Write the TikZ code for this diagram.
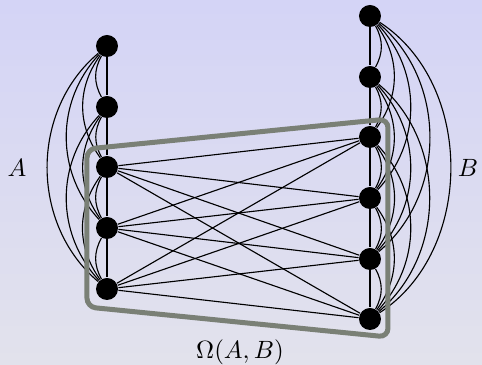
\documentclass[tikz,border=0pt]{standalone}
\definecolor{framegray}{RGB}{122,128,118}
\definecolor{bgtop}{RGB}{212,212,246}
\definecolor{bgbot}{RGB}{226,226,236}
\begin{document}
\begin{tikzpicture}[x=0.4pt,y=-0.4pt,
  vtx/.style={circle,fill=black,draw=none,inner sep=0pt,minimum size=8.8pt},
  edge/.style={line width=0.45pt,black},
  frame/.style={draw=framegray,line width=2pt,rounded corners=3.5pt},
  lab/.style={inner sep=1pt}]
\shade[top color=bgtop,bottom color=bgbot] (0,0) rectangle (482,365);
\useasboundingbox (0,0) rectangle (482,365);
\foreach \i/\y in {1/46,2/107,3/167,4/228,5/289} \node[vtx] (a\i) at (107,\y) {};
\foreach \i/\y in {1/16,2/77,3/137,4/198,5/259,6/319} \node[vtx] (b\i) at (370,\y) {};
% straight column lines
\draw[edge] (a1) -- (a2) -- (a3) -- (a4) -- (a5);
\draw[edge] (b1) -- (b2) -- (b3) -- (b4) -- (b5) -- (b6);
% arcs inside A
\foreach \i in {1,...,4}{
  \pgfmathtruncatemacro\s{\i+1}
  \foreach \j in {\s,...,5}{
    \pgfmathtruncatemacro\th{22+7*(\j-\i)}
    \draw[edge] (a\i) to[bend right=\th] (a\j);
  }
}
% arcs inside B
\foreach \i in {1,...,5}{
  \pgfmathtruncatemacro\s{\i+1}
  \foreach \j in {\s,...,6}{
    \pgfmathtruncatemacro\th{22+7*(\j-\i)}
    \draw[edge] (b\i) to[bend left=\th] (b\j);
  }
}
% bipartite edges
\foreach \i in {3,4,5}{
  \foreach \j in {3,...,6}{
    \draw[edge] (a\i) -- (b\j);
  }
}
% Omega frame
\draw[frame] (87,149) -- (388,119) -- (388,337) -- (87,307) -- cycle;
\node[lab] (labA) at (17,168) {$A$};
\node[lab] (labB) at (468,168) {$B$};
\node[lab] (labO) at (240,352) {$\Omega(A,B)$};
\end{tikzpicture}
\end{document}
